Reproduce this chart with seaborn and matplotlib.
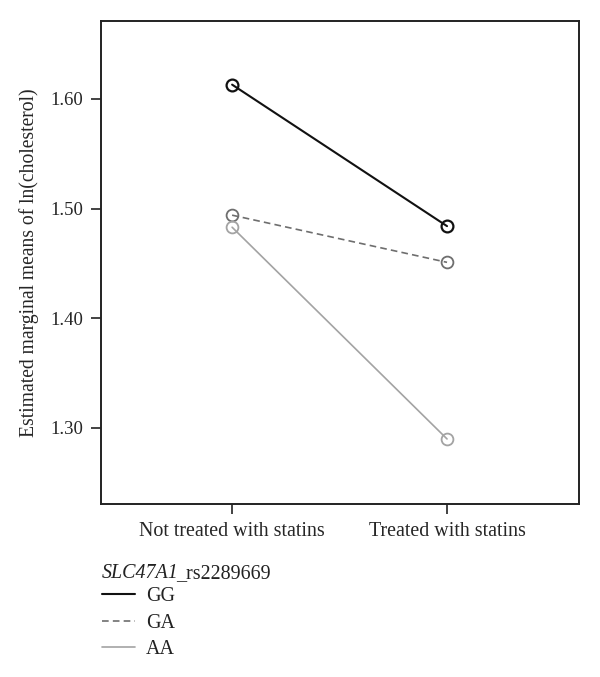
import numpy as np
import pandas as pd
import matplotlib
matplotlib.use('Agg')
import matplotlib.pyplot as plt
import seaborn as sns

# ── Dados ─────────────────────────────────────────────────────────────────────
tratamento = ['Not treated with statins', 'Treated with statins']
genotipos = ['GG', 'GA', 'AA']
media_gg = [1.613, 1.484]
media_ga = [1.494, 1.451]
media_aa = [1.483, 1.290]
yticks = [1.30, 1.40, 1.50, 1.60]

CORES = {'GG': '#111111', 'GA': '#6e6e6e', 'AA': '#a3a3a3'}
TRACOS = {'GG': '', 'GA': (4, 2.5), 'AA': ''}

df = pd.DataFrame({
    'trat': tratamento * 3,
    'geno': np.repeat(genotipos, 2),
    'media': media_gg + media_ga + media_aa,
})

sns.set_style('white')
plt.rcParams['font.family'] = ['Liberation Serif', 'DejaVu Serif']

fig = plt.figure(figsize=(6.0, 6.77), dpi=100)
ax = fig.add_axes([101 / 600, 1 - 504 / 677, 478 / 600, 483 / 677])

sns.lineplot(data=df, x='trat', y='media', hue='geno', style='geno',
             palette=CORES, dashes=TRACOS, markers={g: 'o' for g in genotipos},
             sort=False, legend=False, ax=ax)

for linha, g in zip(ax.lines, genotipos):
    linha.set_markerfacecolor('none')
    linha.set_markeredgecolor(CORES[g])
    linha.set_markersize(8.5)
    linha.set_markeredgewidth(1.6 if g == 'GG' else 1.3)
    linha.set_linewidth(1.5 if g == 'GG' else 1.2)

ax.set_xlim(-0.61, 1.614)
ax.set_ylim(1.2307, 1.671)
ax.set_yticks(yticks)
ax.set_yticklabels([f'{v:.2f}' for v in yticks])
ax.set_xlabel('')
ax.set_ylabel('Estimated marginal means of ln(cholesterol)', fontsize=14.1, labelpad=8)
ax.tick_params(axis='both', which='both', length=7, width=1.2, color='#222222',
               labelsize=13.5, left=True, bottom=True, pad=6)
ax.tick_params(axis='x', labelsize=14.4)
for lado in ax.spines.values():
    lado.set_color('#222222')
    lado.set_linewidth(1.4)

# título da legenda: nome do gene em itálico
t1 = fig.text(102 / 600, 1 - 574 / 677, 'SLC47A1', fontsize=14.4, style='italic',
              va='center', ha='left', color='#222222')
fig.canvas.draw()
bb = t1.get_window_extent()
fig.text((bb.x1 - 3) / 600, 1 - 574 / 677, '_rs2289669', fontsize=14.4,
         va='center', ha='left', color='#222222')

# legenda abaixo do gráfico
alcas = [plt.Line2D([], [], color=CORES[g], dashes=TRACOS[g] if TRACOS[g] else (None, None),
                    lw=1.5 if g == 'GG' else 1.2) for g in genotipos]
leg = fig.legend(alcas, genotipos, loc='upper left', bbox_to_anchor=(102 / 600, 1 - 587 / 677),
                 fontsize=14.4, frameon=False, handlelength=1.65, handletextpad=0.55,
                 labelspacing=0.38, borderaxespad=0, borderpad=0)
for txt in leg.get_texts():
    txt.set_color('#222222')

fig.savefig('out.png', dpi=100)
